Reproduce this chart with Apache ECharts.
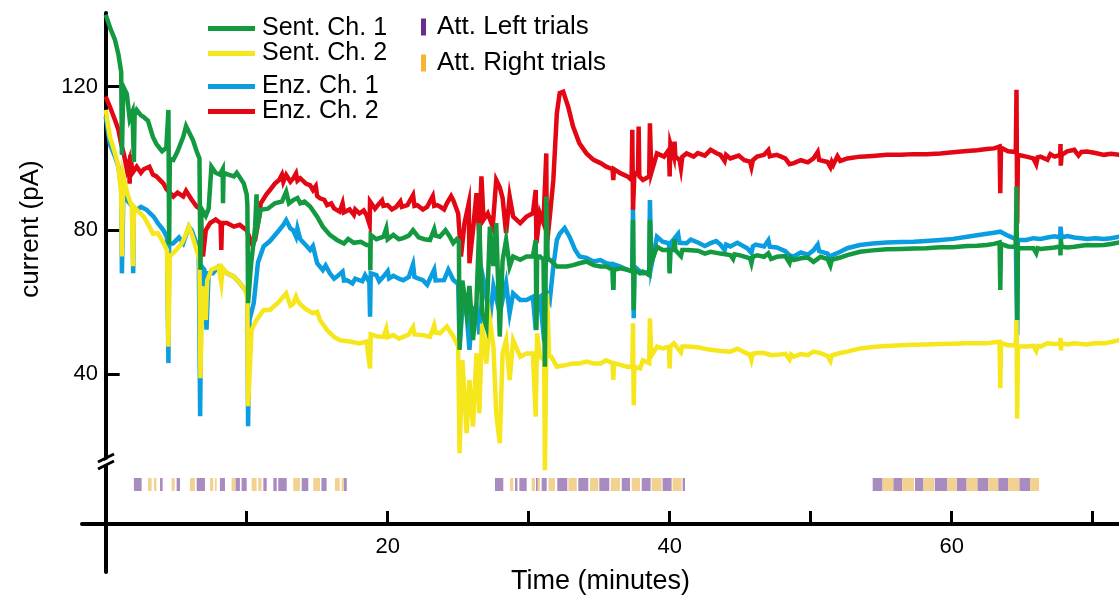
<!DOCTYPE html>
<html>
<head>
<meta charset="utf-8">
<script src="https://cdn.jsdelivr.net/npm/echarts@6.0.0/dist/echarts.min.js"></script>
<style>
html,body{margin:0;padding:0;background:#fff;}
#chart{width:1119px;height:598px;}
</style>
</head>
<body>
<div id="chart"></div>
<script>
// ---------------- DATA ----------------
const seriesNames = ['Enz. Ch. 1', 'Enz. Ch. 2', 'Sent. Ch. 2', 'Sent. Ch. 1'];
const xTicks = [10, 20, 30, 40, 50, 60, 70];
const xTickLabels = [20, 40, 60];
const yTicks = [40, 80, 120];

// [time (min), current (pA)]
const sentCh1 = [[0,140],[0.35,136],[0.66,133],[0.9,129],[1.1,124],[1.15,101],[1.25,120],[1.5,118],[1.7,111],[1.9,113],[2.0,99],[2.05,112],[2.2,113.5],[2.5,112],[2.7,111.5],[3.0,110.5],[3.1,110],[3.35,106],[3.6,104],[4.0,102],[4.3,103],[4.45,113.5],[4.5,76],[4.55,100],[4.8,99.6],[5.1,102],[5.5,106],[5.7,109],[5.95,107],[6.2,105],[6.45,102],[6.65,100],[6.72,69],[6.8,86],[7.1,84],[7.3,86],[7.5,97.7],[7.8,96],[8.1,95.5],[8.3,97],[8.32,87.5],[8.36,96],[8.7,95.5],[9.1,95],[9.3,96],[9.8,93],[10.0,90],[10.05,87],[10.1,59.7],[10.3,70],[10.6,81],[10.7,90],[10.75,81],[11.0,85.7],[11.5,86],[12.0,87.5],[12.5,88],[12.8,90.7],[13.0,87.5],[13.3,88.4],[13.6,89],[13.8,87.5],[14.1,88],[14.5,86.6],[15.0,83.8],[15.4,81],[15.9,78.7],[16.4,77.3],[16.9,76.3],[17.2,77.6],[17.6,76.5],[18.1,76.8],[18.5,75.9],[18.75,75.9],[18.77,68.9],[18.8,78.7],[19.2,77.5],[19.7,78.2],[19.9,80.5],[20.0,77.5],[20.4,78.7],[20.8,77.5],[21.1,77.8],[21.5,78.5],[21.8,80],[22.2,78],[22.6,77.5],[23.0,77.3],[23.3,80.3],[23.4,78.5],[23.7,78.2],[24.1,80],[24.4,78.3],[24.65,76.4],[24.9,77.5],[25.05,77],[25.1,46.7],[25.3,66],[25.6,57],[25.8,64.5],[26.05,49.4],[26.3,60],[26.5,82],[26.7,57],[27.0,53.2],[27.25,81],[27.5,70],[27.7,82],[27.95,50.4],[28.15,71.5],[28.4,77.3],[28.65,69.9],[28.9,72.7],[29.4,71.8],[29.85,72.7],[30.3,72.7],[30.5,77.3],[30.55,52.2],[30.6,72.7],[30.8,72.7],[31.05,71.8],[31.15,42],[31.25,89.4],[31.35,71.8],[31.5,71.8],[32.0,69.9],[32.7,69.9],[33.15,70.3],[33.6,70.8],[34.1,71.3],[34.6,70.3],[35.1,69.9],[35.5,69.9],[35.95,69],[36.0,63.4],[36.05,69],[36.5,69.4],[37.0,69],[37.35,68.5],[37.4,82.9],[37.45,57.8],[37.5,69],[37.9,68],[38.1,68.5],[38.55,67.5],[38.6,82.9],[38.7,71],[39.1,75.4],[39.5,74.5],[39.95,74.5],[40.0,68],[40.05,74.5],[40.3,74.5],[40.35,77.5],[40.4,74.5],[40.8,72.8],[40.9,74.5],[41.2,74.5],[42.0,74.3],[42.5,73.5],[42.9,74],[43.6,73.5],[44.3,73.1],[44.5,72],[44.6,73.3],[45.0,73],[45.7,72.2],[45.8,70.8],[45.9,72.6],[46.2,73],[46.7,72.6],[47.0,73.6],[47.2,72],[47.6,72.6],[48.2,72.8],[48.5,70.9],[48.6,72.4],[48.8,71.7],[49.3,72.2],[49.8,72.4],[50.2,71.2],[50.7,72.6],[51.2,72],[51.4,70.2],[51.5,71.8],[51.6,71.3],[52.1,72.4],[52.6,73.1],[53.5,74],[54.4,74.4],[55.4,74.7],[56.4,74.8],[57.3,74.9],[58.2,75],[59.2,75.3],[60.1,75.3],[61.1,75.6],[61.8,75.7],[62.5,75.9],[63.0,76.2],[63.4,76.6],[63.45,63.4],[63.5,76.2],[64.0,75.5],[64.55,75.4],[64.6,92.2],[64.65,55],[64.7,75],[65.3,75],[65.8,75],[66.0,73.6],[66.1,75],[66.3,74.8],[66.8,75],[67.3,75.2],[67.7,75.5],[67.72,73],[67.74,77.5],[67.8,75.4],[68.2,75.2],[68.7,75.4],[69.2,75.7],[69.6,75.9],[70.2,75.8],[70.8,75.9],[71.3,76.2],[71.9,76.6]];

const sentCh2 = [[0,113.5],[0.3,106],[0.66,101.4],[0.9,97.7],[1.1,90],[1.15,72.7],[1.25,95],[1.55,90],[1.85,86.6],[1.95,70],[2.0,86.6],[2.2,85.7],[2.7,83.8],[3.1,81],[3.35,79],[3.7,79.2],[4.1,76.4],[4.35,74.5],[4.45,47.6],[4.55,72.7],[5.0,74.5],[5.4,76.4],[5.6,78],[5.9,81],[6.1,79],[6.45,74.5],[6.65,72],[6.72,38.8],[6.85,64.4],[7.1,55],[7.2,66],[7.5,69],[8.0,69.9],[8.2,65.3],[8.3,69.5],[8.6,68],[9.1,67.1],[9.5,65.3],[9.9,63.4],[10.05,61],[10.1,31],[10.35,52.3],[10.7,55],[11.2,57.8],[11.65,57.8],[12.3,60.1],[12.8,62.4],[13.1,59],[13.3,59.5],[13.5,61.5],[13.6,60.5],[13.8,59.4],[14.2,58],[14.7,56.9],[15.0,57.3],[15.2,55],[15.7,52.2],[16.2,50.3],[16.6,49.4],[17.3,49],[18.0,48.5],[18.5,49],[18.75,41.5],[18.8,51],[19.2,50.5],[19.7,50.3],[19.9,52.6],[20.0,50.2],[20.4,50.8],[20.8,49.8],[21.1,50.3],[21.5,51],[21.8,53],[21.9,51],[22.5,50.8],[23.0,50.3],[23.3,53.5],[23.4,51.5],[23.7,51.3],[24.2,53.2],[24.65,50.5],[25.0,47.6],[25.1,17.9],[25.3,43.8],[25.6,23.5],[25.8,38.3],[26.05,25.3],[26.3,45.7],[26.5,29],[26.7,54],[27.0,42.9],[27.25,55],[27.5,47.6],[27.7,29],[27.95,20.7],[28.15,45.7],[28.4,49.4],[28.65,38.3],[28.9,49.4],[29.4,44.8],[29.85,45.7],[30.3,45.7],[30.5,28.1],[30.6,51.3],[30.8,44.8],[31.1,44],[31.15,13.2],[31.3,62.4],[31.45,45],[31.6,44.8],[32.0,42],[32.7,42.5],[33.15,42.9],[33.6,42.9],[34.1,43.4],[34.6,42.9],[35.1,42.9],[35.5,43.8],[35.95,43],[36.0,38.3],[36.05,43],[36.5,42.5],[37.0,42],[37.35,42],[37.4,54.1],[37.45,31.3],[37.5,42],[37.9,41.5],[38.1,43.8],[38.55,43],[38.6,55.5],[38.7,45],[39.1,47.6],[39.5,47.1],[39.95,47.6],[40.0,41.5],[40.05,47.6],[40.3,48.5],[40.8,46],[40.9,47.6],[41.2,47.6],[42.0,47.4],[42.9,46.7],[43.6,46.4],[44.3,46.2],[44.8,47],[45.7,45.3],[45.8,43.9],[45.9,45.6],[46.2,45.8],[46.7,45.8],[47.2,45.2],[47.6,45.3],[48.2,45.6],[48.5,44],[48.6,45.4],[48.8,44.8],[49.3,45.5],[49.8,45.2],[50.2,46.2],[50.7,45.8],[51.2,45],[51.4,43.6],[51.5,45.2],[51.6,44.8],[52.1,45.8],[52.6,46.2],[53.5,47.1],[54.4,47.5],[55.4,47.8],[56.4,48],[57.3,48.1],[58.2,48.2],[59.2,48.3],[60.1,48.4],[61.1,48.5],[61.8,48.5],[62.5,48.5],[63.0,48.8],[63.4,48.9],[63.45,36],[63.5,48.6],[64.0,48],[64.55,48],[64.6,55],[64.65,27.6],[64.7,47.6],[65.3,47.6],[65.8,47.8],[66.0,46.4],[66.1,47.8],[66.3,47.6],[66.8,48.5],[67.3,48.3],[67.7,48.5],[67.72,50],[67.74,46.5],[67.8,48.5],[68.2,48.2],[68.7,48.5],[69.2,48.3],[69.6,48.2],[70.2,48.6],[70.8,48.5],[71.3,48.9],[71.9,49.4]];

const enzCh1 = [[0,111.7],[0.3,104],[0.66,100.5],[0.9,97.7],[1.1,92],[1.15,68],[1.25,89.4],[1.6,88],[1.9,86.5],[1.95,68],[2.0,86],[2.2,85.7],[2.5,86.5],[2.9,85.7],[3.4,83.8],[3.7,82],[4.1,80],[4.35,78],[4.45,43],[4.5,76],[4.8,76.4],[5.2,78],[5.5,76.4],[5.9,81],[6.1,80],[6.35,77.3],[6.6,74.5],[6.7,28.2],[6.8,70],[7.0,69],[7.15,52.3],[7.3,68],[7.6,68],[8.0,69.9],[8.6,68],[9.1,67.1],[9.5,65.3],[9.9,63.4],[10.05,62],[10.1,25.4],[10.2,55],[10.5,59.7],[10.8,71],[11.2,75.5],[11.65,77],[12.3,80],[12.6,81.5],[12.8,82.8],[13.1,80.5],[13.3,80],[13.5,78.2],[13.6,80.5],[13.8,77.5],[14.2,75.8],[14.5,74.5],[14.7,75.6],[15.0,70.8],[15.4,68.9],[15.6,70.2],[15.9,68],[16.2,66.5],[16.4,67.1],[16.8,68.5],[16.9,66],[17.1,66.1],[17.5,65.2],[17.7,66.5],[18.2,65.8],[18.4,67.5],[18.7,65.5],[18.75,55.9],[18.8,68],[19.2,67.5],[19.4,65.8],[19.7,67.1],[20.0,68.6],[20.1,66.6],[20.4,67.3],[20.8,66.5],[21.1,66.1],[21.5,67],[21.8,70.5],[21.9,67],[22.2,66.5],[22.5,66.1],[22.8,64.8],[23.0,66.5],[23.3,69],[23.4,66],[23.5,66.1],[24.0,66.1],[24.3,69],[24.65,66.2],[25.0,65],[25.1,47.6],[25.3,58],[25.6,56.9],[25.8,46.7],[26.0,58],[26.3,58.7],[26.5,51],[26.8,66.2],[27.0,62.4],[27.2,53.2],[27.5,64.4],[27.95,56.9],[28.4,65.3],[28.65,56.9],[28.9,62.4],[29.4,60.6],[29.85,60.6],[30.3,61.5],[30.5,52.2],[30.6,61],[30.8,61.5],[31.1,49],[31.3,62.4],[31.5,60.6],[31.75,69.9],[32.0,77.3],[32.2,79],[32.55,80.6],[32.9,78.2],[33.3,74.5],[33.6,72.7],[34.1,72.3],[34.6,71.3],[35.1,71.7],[35.5,70.8],[35.95,70.5],[36.0,63.4],[36.05,70.5],[36.5,69.9],[37.0,69],[37.35,68.5],[37.4,86.6],[37.45,55.5],[37.5,69.9],[37.9,68.5],[38.1,68],[38.55,68.5],[38.6,88.4],[38.7,70],[39.1,78.2],[39.5,76.8],[39.95,76.4],[40.0,68.5],[40.05,76.4],[40.3,77.5],[40.6,79],[40.7,76.5],[41.2,76.4],[41.5,77.4],[42.0,76.6],[42.5,75.6],[42.9,76.4],[43.3,77],[43.6,76],[43.9,74.5],[44.0,76],[44.3,75.5],[44.8,76.5],[45.5,75],[45.8,73.7],[45.9,75.5],[46.1,76],[46.7,75.5],[47.0,77.2],[47.1,75.4],[47.6,75.2],[48.2,74.2],[48.5,73],[48.8,72.7],[49.3,73.8],[49.8,73.2],[50.2,74.4],[50.5,76],[50.6,74.2],[50.7,74.5],[51.2,73.5],[51.4,71.8],[51.5,73],[51.6,72.7],[52.1,74],[52.6,75],[53.5,75.9],[54.4,76.3],[55.4,76.6],[56.4,76.7],[57.3,76.8],[58.2,77],[59.2,77.3],[60.1,77.6],[61.1,78.2],[61.8,78.6],[62.5,79],[63.0,79.3],[63.45,79.6],[64.0,78.5],[64.55,77.5],[64.6,77.3],[64.65,50.8],[64.7,77.3],[65.3,77.3],[65.8,77.8],[66.3,77.6],[66.8,78],[67.3,78.3],[67.7,78],[67.72,81],[67.8,78],[68.2,78.4],[68.7,78],[69.2,77.8],[69.6,77.6],[70.2,77.8],[70.8,77.6],[71.3,77.8],[71.9,78.2]];

const enzCh2 = [[0,117.2],[0.3,114.4],[0.66,110.7],[0.9,108],[1.1,104],[1.3,101],[1.5,97],[1.65,99],[1.7,93],[1.75,101],[1.9,96],[2.2,97.7],[2.5,96],[2.7,97],[3.1,97.7],[3.35,95.5],[3.6,95],[4.1,93],[4.3,91.5],[4.8,89.4],[5.1,90.5],[5.5,89.4],[5.7,91],[6.1,88.5],[6.45,86.6],[6.7,86],[6.9,72.7],[7.1,80],[7.4,82],[7.8,83],[8.15,82],[8.2,74.5],[8.25,82],[8.6,82],[9.1,81],[9.5,81.5],[10.0,80],[10.35,76.4],[10.6,77.3],[10.9,84],[11.0,87.5],[11.4,90],[11.65,91.2],[12.0,93],[12.3,94],[12.5,95.5],[12.6,93.5],[12.8,95.4],[13.1,93.5],[13.3,94.4],[13.5,95.8],[13.6,93.8],[13.8,94.5],[14.2,93],[14.5,92.5],[14.7,91.2],[14.9,92.3],[15.0,89.5],[15.2,88.9],[15.5,88.5],[15.7,87],[16.0,87.5],[16.2,86.1],[16.6,85.2],[16.8,87.5],[16.9,85],[17.3,85.8],[17.6,84.3],[17.7,85.8],[18.0,84.7],[18.3,85.5],[18.5,84.2],[18.72,81.5],[18.75,88],[18.8,87.5],[19.1,86],[19.3,87],[19.6,88.3],[19.7,86.8],[20.0,87],[20.3,85.8],[20.6,86.5],[20.9,88],[21.0,86.5],[21.4,87],[21.8,89.8],[21.9,86.8],[22.1,87],[22.5,85.8],[22.8,86.5],[23.2,89.5],[23.3,86.8],[23.5,87],[23.7,86.6],[24.0,85.8],[24.2,87.5],[24.5,89.5],[24.65,88.4],[25.0,84.7],[25.2,72.7],[25.45,82],[25.75,87.5],[25.8,70.8],[26.05,80],[26.3,90.3],[26.5,78.2],[26.65,95],[26.8,82.9],[27.1,84.7],[27.45,81],[27.7,94],[27.95,92],[28.15,89],[28.4,79.2],[28.65,89.4],[28.9,83.8],[29.4,82],[29.85,83.8],[30.3,84.7],[30.5,91.2],[30.55,76.4],[30.8,84.7],[31.05,82],[31.25,101.4],[31.28,75.5],[31.5,83.8],[31.75,94],[32.0,112.6],[32.2,118.2],[32.45,118.6],[32.8,114.4],[33.15,108.9],[33.6,104.2],[34.1,101.4],[34.6,99.6],[35.1,98.7],[35.5,97.7],[35.95,97],[36.0,94],[36.05,97],[36.5,95.9],[37.0,95],[37.3,94],[37.35,108],[37.4,85.7],[37.5,96],[37.75,95.5],[37.8,108.9],[37.85,95],[38.1,94],[38.55,95],[38.6,109.8],[38.7,96],[39.1,101.4],[39.6,100.5],[39.95,102.4],[40.0,95],[40.05,104],[40.3,100.5],[40.35,104.7],[40.4,100.5],[40.7,99.6],[40.8,97.3],[40.9,100.5],[41.2,101.4],[41.7,100.5],[42.0,101.5],[42.5,100.8],[42.9,102.4],[43.3,101.5],[43.6,101],[43.9,99.3],[44.0,101],[44.3,100],[44.9,100.8],[45.3,99.5],[45.7,99.1],[45.8,97.6],[45.9,99.5],[46.2,100.5],[46.7,101],[47.0,102.3],[47.1,100.6],[47.6,101],[48.2,100],[48.5,98.4],[48.8,98.7],[49.3,99.5],[49.8,98.9],[50.2,100],[50.5,101.8],[50.6,99.6],[50.7,100],[51.2,99],[51.4,97.6],[51.5,99],[51.6,98.2],[51.9,100.6],[52.1,99.3],[52.6,100],[53.5,100.5],[54.4,100.7],[55.4,101],[56.4,101],[57.3,101.2],[58.2,101.2],[59.2,101.4],[60.1,101.7],[61.1,102.1],[61.8,102.3],[62.5,102.6],[63.0,102.8],[63.4,103.3],[63.45,90.3],[63.5,103],[64.0,102],[64.55,101.8],[64.6,119.1],[64.65,81.9],[64.7,101],[65.3,100.5],[65.8,100],[66.0,98.4],[66.1,100.3],[66.3,100.5],[66.8,99.6],[67.0,101.2],[67.3,100.5],[67.7,101],[67.72,104],[67.74,98],[67.8,101],[68.2,102],[68.7,102.4],[69.0,100.8],[69.2,101.8],[69.6,101.9],[70.2,101.5],[70.8,101],[71.3,101.3],[71.9,101]];

// trial intervals [start, end] (min)
const leftTrials = [[2.0,2.55],[3.85,4.04],[5.03,5.27],[6.45,7.04],[8.1,8.46],[9.2,9.52],[9.64,10.0],[11.18,11.42],[11.89,12.13],[12.24,12.84],[13.9,14.37],[15.3,15.67],[16.9,17.1],
  [27.61,28.2],[29.03,29.2],[29.34,29.86],[30.52,30.65],[30.92,31.28],[32.03,32.74],[33.52,34.23],[35.01,35.72],[36.6,37.19],[38.02,38.65],[39.5,40.14],[40.92,41.09],
  [54.4,55.1],[55.86,56.5],[57.4,58.0],[58.8,59.7],[60.36,61.06],[61.82,62.6],[63.3,64.0],[64.8,65.56]];
const rightTrials = [[3.0,3.26],[3.43,3.6],[4.68,4.9],[5.98,6.33],[7.4,7.63],[7.75,7.87],[8.93,9.2],[10.35,10.7],[10.82,11.06],[13.3,13.78],[14.72,15.2],[16.26,16.6],[16.74,16.9],
  [28.68,28.91],[30.21,30.45],[30.65,30.8],[31.4,31.87],[32.81,33.41],[34.35,34.94],[35.82,36.48],[37.31,37.9],[38.72,39.43],[40.21,40.85],
  [55.1,55.86],[56.5,57.33],[58.0,58.75],[59.7,60.36],[61.06,61.82],[62.6,63.3],[64.0,64.8],[65.56,66.2]];

// ---------------- CHART ----------------
const FONT = '"Liberation Sans", Arial, sans-serif';
const X_MIN = -1.68, X_MAX = 71.87;
const colors = {
  'Sent. Ch. 1': '#13993f',
  'Sent. Ch. 2': '#f6e61c',
  'Enz. Ch. 1': '#0a9ddf',
  'Enz. Ch. 2': '#e30613'
};
const seriesData = {
  'Sent. Ch. 1': sentCh1, 'Sent. Ch. 2': sentCh2, 'Enz. Ch. 1': enzCh1, 'Enz. Ch. 2': enzCh2
};

function trialRenderer(fill) {
  return function (params, api) {
    const s = api.coord([api.value(0), 1]);
    const e = api.coord([api.value(1), 0]);
    return {
      type: 'rect',
      shape: { x: s[0], y: s[1], width: Math.max(e[0] - s[0], 1), height: e[1] - s[1] },
      style: { fill: fill }
    };
  };
}

const chart = echarts.init(document.getElementById('chart'), null, { renderer: 'canvas' });

const lineSeries = seriesNames.map(n => ({
  name: n, type: 'line', xAxisIndex: 0, yAxisIndex: 0,
  data: seriesData[n], showSymbol: false, symbol: 'none',
  lineStyle: { color: colors[n], width: 4.5, join: 'miter' },
  itemStyle: { color: colors[n] },
  emphasis: { disabled: true }, silent: true
}));

const option = {
  animation: false,
  backgroundColor: '#fff',
  textStyle: { fontFamily: FONT },
  grid: [
    { left: 82, right: 0, top: 13, bottom: 74, outerBoundsMode: 'none' },
    { left: 82, right: 0, top: 478, height: 13, outerBoundsMode: 'none' },
    { left: 82, right: 0, top: 524, height: 48, outerBoundsMode: 'none' }
  ],
  xAxis: [
    {
      type: 'value', gridIndex: 0, min: X_MIN, max: X_MAX,
      axisLine: { show: true, onZero: false, lineStyle: { color: '#000', width: 4 } },
      axisTick: { show: true, inside: true, length: 13, customValues: xTicks, lineStyle: { color: '#000', width: 3 } },
      axisLabel: { show: true, customValues: xTickLabels, margin: 12, fontSize: 22, color: '#000', fontFamily: FONT },
      splitLine: { show: false },
      name: 'Time (minutes)', nameLocation: 'middle', nameGap: 44,
      nameTextStyle: { fontSize: 27, color: '#000', fontFamily: FONT }
    },
    { type: 'value', gridIndex: 1, min: X_MIN, max: X_MAX, show: false },
    { type: 'value', gridIndex: 2, min: X_MIN, max: X_MAX, show: false }
  ],
  yAxis: [
    {
      type: 'value', gridIndex: 0, min: -1.8, max: 140.5,
      axisLine: { show: true, onZero: true, lineStyle: { color: '#000', width: 4 } },
      axisTick: { show: true, inside: true, length: 14, customValues: yTicks, lineStyle: { color: '#000', width: 3 } },
      axisLabel: { show: true, customValues: yTicks, margin: -16, fontSize: 22, color: '#000', fontFamily: FONT },
      splitLine: { show: false }
    },
    { type: 'value', gridIndex: 1, min: 0, max: 1, show: false },
    {
      type: 'value', gridIndex: 2, min: 0, max: 1,
      axisLine: { show: true, onZero: true, lineStyle: { color: '#000', width: 4 } },
      axisTick: { show: false }, axisLabel: { show: false }, splitLine: { show: false }
    }
  ],
  legend: [
    {
      left: 208, top: 16, padding: 0, orient: 'vertical', itemWidth: 47, itemHeight: 5, itemGap: 0,
      icon: 'rect', selectedMode: false,
      data: ['Sent. Ch. 1', 'Sent. Ch. 2'],
      textStyle: { fontSize: 25, lineHeight: 22, color: '#000', fontFamily: FONT, padding: [0, 0, 0, 2] }
    },
    {
      left: 208, top: 74, padding: 0, orient: 'vertical', itemWidth: 47, itemHeight: 5, itemGap: 0,
      icon: 'rect', selectedMode: false,
      data: ['Enz. Ch. 1', 'Enz. Ch. 2'],
      textStyle: { fontSize: 25, lineHeight: 22, color: '#000', fontFamily: FONT, padding: [0, 0, 0, 2] }
    },
    {
      left: 421, top: 14, padding: 0, orient: 'vertical', itemWidth: 5, itemHeight: 17, itemGap: 10,
      icon: 'rect', selectedMode: false,
      data: [
        { name: 'Att. Left trials', itemStyle: { color: '#6b2c8f' } },
        { name: 'Att. Right trials', itemStyle: { color: '#f9b233' } }
      ],
      textStyle: { fontSize: 26, lineHeight: 25, color: '#000', fontFamily: FONT, padding: [0, 0, 0, 6] }
    }
  ],
  graphic: [
    {
      type: 'text', x: 31, y: 229, rotation: Math.PI / 2,
      style: { text: 'current (pA)', fontSize: 26, fill: '#000', fontFamily: FONT, align: 'center', verticalAlign: 'middle' },
      z: 100
    },
    { type: 'polygon', shape: { points: [[100, 463], [112, 457], [112, 462], [100, 468]] }, style: { fill: '#fff' }, z: 100 },
    { type: 'line', shape: { x1: 98, y1: 462, x2: 114, y2: 454 }, style: { stroke: '#000', lineWidth: 3 }, z: 101 },
    { type: 'line', shape: { x1: 98, y1: 469, x2: 114, y2: 461 }, style: { stroke: '#000', lineWidth: 3 }, z: 101 }
  ],
  series: lineSeries.concat([
    {
      name: 'Att. Left trials', type: 'custom', xAxisIndex: 1, yAxisIndex: 1,
      data: leftTrials, encode: { x: [0, 1] },
      itemStyle: { color: '#6b2c8f' },
      renderItem: trialRenderer('#a88cc0'), silent: true
    },
    {
      name: 'Att. Right trials', type: 'custom', xAxisIndex: 1, yAxisIndex: 1,
      data: rightTrials, encode: { x: [0, 1] },
      itemStyle: { color: '#f9b233' },
      renderItem: trialRenderer('#f3d291'), silent: true
    }
  ])
};

chart.setOption(option);
</script>
</body>
</html>
